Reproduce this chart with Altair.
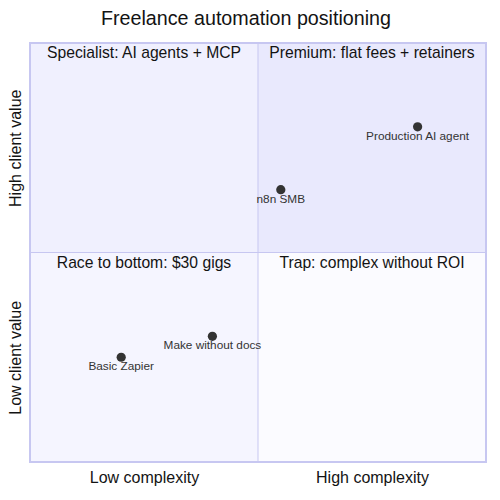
import altair as alt
import pandas as pd

title = "Freelance automation positioning"

# quadrants
q_x0 = [0.5, 0.0, 0.0, 0.5]
q_x1 = [1.0, 0.5, 0.5, 1.0]
q_y0 = [0.5, 0.5, 0.0, 0.0]
q_y1 = [1.0, 1.0, 0.5, 0.5]
q_labels = ["Premium: flat fees + retainers", "Specialist: AI agents + MCP",
            "Race to bottom: $30 gigs", "Trap: complex without ROI"]
q_colors = ["#E9E9FD", "#F0F0FE", "#F5F5FF", "#FBFBFF"]

# points
p_names = ["Production AI agent", "n8n SMB", "Make without docs", "Basic Zapier"]
p_x = [0.85, 0.55, 0.40, 0.20]
p_y = [0.80, 0.65, 0.30, 0.25]

x_axis_labels = ["Low complexity", "High complexity"]
y_axis_labels = ["Low client value", "High client value"]

FONT = "Liberation Sans"
BORDER = "#C7C7F1"
TEXT = "#131313"

qdf = pd.DataFrame({"x0": q_x0, "x1": q_x1, "y0": q_y0, "y1": q_y1,
                    "label": q_labels, "color": q_colors,
                    "cx": [(a + b) / 2 for a, b in zip(q_x0, q_x1)]})
pdf = pd.DataFrame({"name": p_names, "x": p_x, "y": p_y})
mid = pd.DataFrame({"v": [0.5]})
frame = pd.DataFrame({"x0": [0.0], "x1": [1.0], "y0": [0.0], "y1": [1.0]})

xscale = alt.Scale(domain=[0, 1], nice=False, zero=False)
yscale = alt.Scale(domain=[0, 1], nice=False, zero=False)

x_label_expr = f"datum.value < 0.5 ? '{x_axis_labels[0]}' : '{x_axis_labels[1]}'"
y_label_expr = f"datum.value < 0.5 ? '{y_axis_labels[0]}' : '{y_axis_labels[1]}'"

xaxis = alt.Axis(values=[0.25, 0.75], labelExpr=x_label_expr, title=None,
                 ticks=False, domain=False, grid=False, labelFontSize=16,
                 labelFont=FONT, labelColor=TEXT, labelPadding=7, labelFlush=False)
yaxis = alt.Axis(values=[0.25, 0.75], labelExpr=y_label_expr, title=None,
                 ticks=False, domain=False, grid=False, labelFontSize=16,
                 labelFont=FONT, labelColor=TEXT, labelAngle=270,
                 labelAlign="center", labelBaseline="bottom", labelPadding=7,
                 labelFlush=False)

bg = alt.Chart(qdf).mark_rect(strokeWidth=0).encode(
    x=alt.X("x0:Q", scale=xscale, axis=xaxis),
    x2="x1:Q",
    y=alt.Y("y0:Q", scale=yscale, axis=yaxis),
    y2="y1:Q",
    color=alt.Color("color:N", scale=None),
)

vline = alt.Chart(mid).mark_rule(color=BORDER, strokeWidth=1).encode(
    x=alt.X("v:Q", scale=xscale), y=alt.value(0), y2=alt.value(419))
hline = alt.Chart(mid).mark_rule(color=BORDER, strokeWidth=1).encode(
    y=alt.Y("v:Q", scale=yscale), x=alt.value(0), x2=alt.value(456))

border = alt.Chart(frame).mark_rect(fill=None, stroke=BORDER, strokeWidth=2).encode(
    x=alt.X("x0:Q", scale=xscale), x2="x1:Q",
    y=alt.Y("y0:Q", scale=yscale), y2="y1:Q")

qtext = alt.Chart(qdf).mark_text(fontSize=15.7, font=FONT, color=TEXT,
                                 baseline="top", align="center", dy=3).encode(
    x=alt.X("cx:Q", scale=xscale), y=alt.Y("y1:Q", scale=yscale), text="label:N")

pts = alt.Chart(pdf).mark_circle(size=85, color="#333333", opacity=1).encode(
    x=alt.X("x:Q", scale=xscale), y=alt.Y("y:Q", scale=yscale))

ptext = alt.Chart(pdf).mark_text(fontSize=11.8, font=FONT, color="#333333",
                                 baseline="top", align="center", dy=4).encode(
    x=alt.X("x:Q", scale=xscale), y=alt.Y("y:Q", scale=yscale), text="name:N")

chart = alt.layer(bg, vline, hline, border, qtext, pts, ptext).properties(
    width=456, height=419,
    title=alt.TitleParams(title, fontSize=19.7, font=FONT, fontWeight="normal",
                          color=TEXT, anchor="middle", dx=-12, offset=13),
    autosize=alt.AutoSizeParams(type="none"),
    padding={"left": 22, "top": 35, "right": 5, "bottom": 30},
).configure_view(stroke=None)

chart.save("out.html", embed_options={"renderer": "svg", "actions": False})
